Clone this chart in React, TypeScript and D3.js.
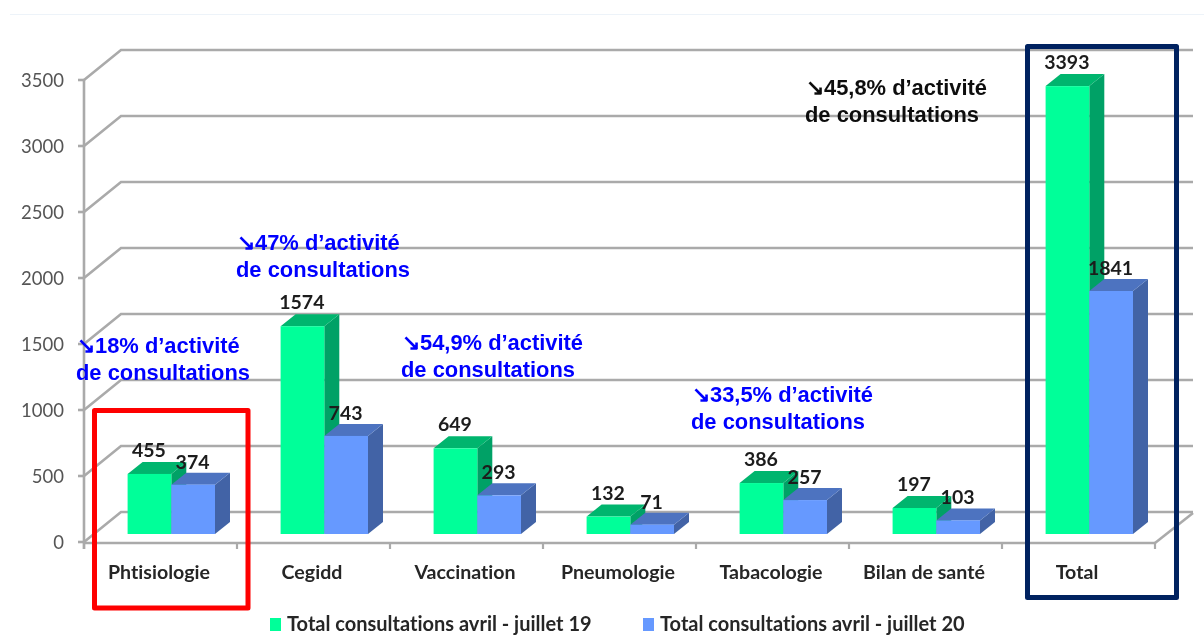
import React from "react";
import * as d3 from "d3";

const categories = ["Phtisiologie", "Cegidd", "Vaccination", "Pneumologie", "Tabacologie", "Bilan de santé", "Total"];
const values2019 = [455, 1574, 649, 132, 386, 197, 3393];
const values2020 = [374, 743, 293, 71, 257, 103, 1841];
const yTicks = [0, 500, 1000, 1500, 2000, 2500, 3000, 3500];
const legendLabels = ["Total consultations avril - juillet 19", "Total consultations avril - juillet 20"];
const annotationFirst = ["↘18% d’activité", "↘47% d’activité", "↘54,9% d’activité", "↘33,5% d’activité", "↘45,8% d’activité"];
const annotationSecond = ["de consultations", "de consultations", "de consultations", "de consultations", "de consultations"];

const W = 1204, H = 642;
const left = 84, right = 1155, front0 = 542, frontTop = 80, baseLine = 543;
const backDx = 37, backDy = -30;
const barBase = 534, barW = 43.7, barOffset = 44, depthX = 15, depthY = -12;

const x = d3.scaleBand<string>().domain(categories).range([left, right]);
const y = d3.scaleLinear().domain([0, 3500]).range([front0, frontTop]);

const annPos = [
  { x: 77, y: 353, c: "#0000ff" },
  { x: 237, y: 250, c: "#0000ff" },
  { x: 402, y: 350, c: "#0000ff" },
  { x: 692, y: 402, c: "#0000ff" },
  { x: 806, y: 95, c: "#111111" },
];

const GRID = "#aaaaaa";
const palette = [
  { front: "#00ff99", top: "#00b56e", side: "#00a166" },
  { front: "#6699ff", top: "#4d73c0", side: "#4264a6" },
];

function Bar({ x0, v, p }: { x0: number; v: number; p: (typeof palette)[number] }) {
  const h = y(0) - y(v);
  const t = barBase - h;
  const x1 = x0 + barW;
  return (
    <g>
      <path d={`M${x1},${t}L${x1 + depthX},${t + depthY}L${x1 + depthX},${barBase + depthY}L${x1},${barBase}Z`} fill={p.side} />
      <path d={`M${x0},${t}L${x0 + depthX},${t + depthY}L${x1 + depthX},${t + depthY}L${x1},${t}Z`} fill={p.top} />
      <rect x={x0} y={t} width={barW} height={h} fill={p.front} />
    </g>
  );
}

const labelFont = "Lato, 'Open Sans', sans-serif";
const annFont = "'Liberation Sans', Arial, sans-serif";

export default function App() {
  return (
    <svg width={W} height={H} viewBox={`0 0 ${W} ${H}`} style={{ position: "absolute", left: 0, top: 0, background: "#fff", fontVariantLigatures: "none" }}>
      <defs>
        <filter id="soft" x="-2%" y="-2%" width="104%" height="104%">
          <feGaussianBlur stdDeviation="0.6" />
        </filter>
      </defs>
      <g filter="url(#soft)">
        <line x1={10} x2={W} y1={14.5} y2={14.5} stroke="#edf3f9" strokeWidth={1} />
        {/* back wall gridlines */}
        {yTicks.map((t) => (
          <g key={t} fill="none" stroke={GRID} strokeWidth={2.6}>
            <path d={`M${left},${y(t)}L${left + backDx},${y(t) + backDy}L${right + backDx + 1},${y(t) + backDy}`} />
            <line x1={left - 6} x2={left} y1={y(t)} y2={y(t)} />
          </g>
        ))}
        <line x1={left} x2={left} y1={frontTop} y2={baseLine + 6} stroke={GRID} strokeWidth={2.6} />
        <line x1={left} x2={right} y1={baseLine} y2={baseLine} stroke={GRID} strokeWidth={2.6} />
        <line x1={right} x2={right + backDx + 1} y1={baseLine} y2={baseLine + backDy} stroke={GRID} strokeWidth={2.6} />
        {[...categories.map((c) => (x(c) as number) + x.bandwidth()), left].map((tx) => (
          <line key={tx} x1={tx} x2={tx} y1={baseLine} y2={baseLine + 6} stroke={GRID} strokeWidth={2.2} />
        ))}
        {/* bars */}
        {categories.map((c, i) => {
          const x0 = (x(c) as number) + barOffset - 0.4;
          return (
            <g key={c}>
              <Bar x0={x0} v={values2019[i]} p={palette[0]} />
              <Bar x0={x0 + barW} v={values2020[i]} p={palette[1]} />
            </g>
          );
        })}
        {/* y tick labels */}
        {yTicks.map((t) => (
          <text key={t} x={64} y={y(t)} dy="0.36em" textAnchor="end" fontFamily={labelFont} fontSize={18.5} fill="#555555">
            {t}
          </text>
        ))}
        {/* value labels */}
        {categories.map((c, i) => {
          const x0 = (x(c) as number) + barOffset;
          return (
            <g key={c} fontFamily={labelFont} fontSize={19.5} fontWeight={700} fill="#1c1c1c" textAnchor="middle">
              <text x={x0 + barW / 2 - 1} y={barBase - (y(0) - y(values2019[i])) - 24} dy="0.36em">{values2019[i]}</text>
              <text x={x0 + barW * 1.5 - 1} y={barBase - (y(0) - y(values2020[i])) - 23} dy="0.36em">{values2020[i]}</text>
            </g>
          );
        })}
        {/* category labels */}
        {categories.map((c) => (
          <text key={c} x={(x(c) as number) + x.bandwidth() / 2 - 1.5} y={572} dy="0.36em" textAnchor="middle" fontFamily={labelFont} fontSize={19.6} fontWeight={700} fill="#262626">
            {c}
          </text>
        ))}
        {/* legend */}
        {legendLabels.map((l, i) => {
          const lx = [270, 643][i];
          return (
            <g key={l}>
              <rect x={lx} y={618} width={11} height={13} fill={palette[i].front} />
              <text x={lx + 17} y={624} dy="0.36em" fontFamily={labelFont} fontSize={20} fontWeight={700} fill="#262626">{l}</text>
            </g>
          );
        })}
        {/* annotations */}
        {annPos.map((a, i) => (
          <g key={i} fontFamily={annFont} fontSize={21.9} fontWeight={700} fill={a.c}>
            <text x={a.x} y={a.y}>{annotationFirst[i]}</text>
            <text x={a.x - 1} y={a.y + 27}>{annotationSecond[i]}</text>
          </g>
        ))}
        {/* highlight boxes */}
        <rect x={94.5} y={410.5} width={153.5} height={197.5} fill="none" stroke="#fe0000" strokeWidth={5} strokeLinejoin="round" />
        <rect x={1027.5} y={46.5} width={149} height={551} fill="none" stroke="#002060" strokeWidth={5} strokeLinejoin="round" />
      </g>
    </svg>
  );
}
